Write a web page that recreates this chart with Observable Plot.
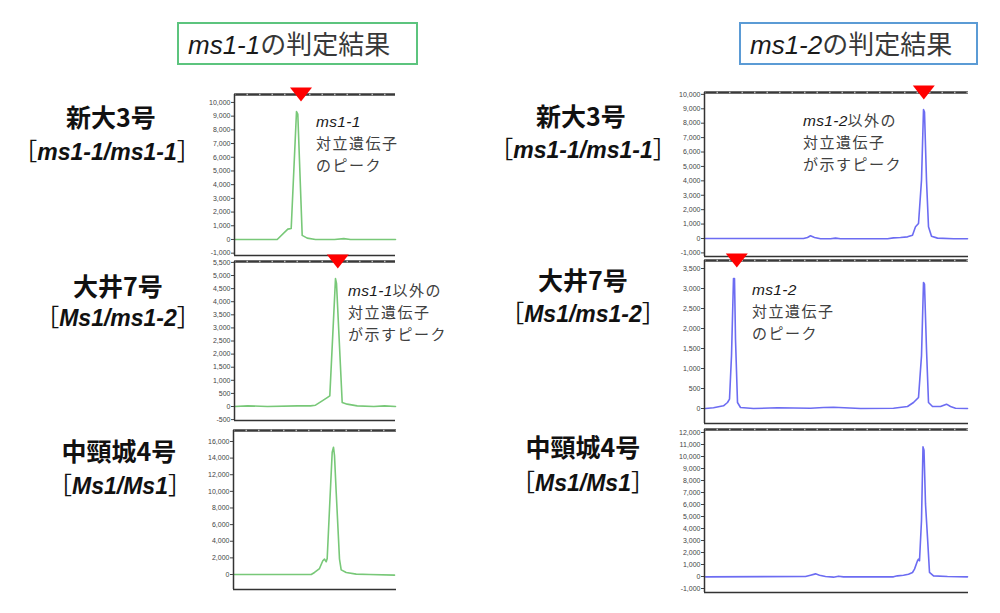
<!DOCTYPE html>
<html><head><meta charset="utf-8">
<script src="https://cdn.jsdelivr.net/npm/d3@7"></script>
<script src="https://cdn.jsdelivr.net/npm/@observablehq/plot@0.6"></script>
<style>
body{margin:0;background:#fff;}
#root{position:relative;width:1000px;height:613px;overflow:hidden;font-family:"Noto Sans CJK JP",sans-serif;color:#222;}
.abs{position:absolute;white-space:nowrap;}
.lat{font-family:"Liberation Sans",sans-serif;font-style:italic;}
.box{position:absolute;box-sizing:border-box;border:2px solid;white-space:nowrap;font-size:26px;line-height:38px;color:#383838;}
.row1{font-size:25px;font-weight:bold;line-height:32px;height:32px;text-align:center;width:220px;color:#111;}
.row2{font-size:24px;line-height:32px;height:32px;text-align:center;width:220px;color:#111;}
.row2 .lat{font-weight:bold;font-size:23px;}
.ann{font-size:15px;line-height:21px;height:21px;letter-spacing:1.5px;color:#404040;}
.ann .lat{color:#1a1a1a;font-size:15.5px;letter-spacing:0.3px;}
svg{overflow:visible;}
</style></head><body><div id="root"></div>
<script>
// ---------- data ----------
const titleLoci = ["ms1-1", "ms1-2"];
const titleSuffix = "の判定結果";
const varieties = ["新大3号", "大井7号", "中頸城4号"];
const genotypes = [["ms1-1", "ms1-1"], ["Ms1", "ms1-2"], ["Ms1", "Ms1"]];

// left column (ms1-1 assay), green traces: position (arbitrary units) and signal
const p1Pos = [0, 20, 42.7, 53.3, 56.7, 62, 63.3, 67.7, 72.7, 81, 100, 109.3, 116, 140, 161];
const p1Sig = [0, 0, 0, 755, 800, 9340, 9150, 300, 100, 0, 0, 60, 0, 0, 0];
const p2Pos = [0, 13, 33, 63, 76, 81, 87.7, 92.7, 95.3, 101, 102, 107.7, 112.7, 122.7, 139.3, 150, 161];
const p2Sig = [0, 25, 0, 25, 25, 50, 215, 340, 405, 4880, 4700, 150, 90, 25, 0, 25, 0];
const p3Pos = [0, 77.7, 81, 86, 89.3, 91, 92.7, 93.7, 96, 98.7, 100, 101, 102.7, 106, 107.7, 112.7, 122.7, 136, 161];
const p3Sig = [0, 0, 240, 720, 1650, 1850, 1530, 1930, 7880, 14700, 15300, 14300, 9900, 1850, 560, 240, 40, 0, -80];
// right column (ms1-2 assay), blue traces
const p4Pos = [1, 99, 103, 106, 110, 116, 126, 131, 136, 156, 183, 189, 196, 203, 208, 211, 214, 217, 219, 220, 222, 224, 227, 233, 249, 263];
const p4Sig = [0, 0, 70, 185, 70, -20, -20, 25, -20, -20, -20, 45, 70, 115, 230, 810, 1040, 4040, 8940, 8780, 4040, 810, 160, 25, -20, -20];
const p5Pos = [1, 9, 14, 19, 23, 25, 27, 29, 30, 31, 33, 36, 49, 73, 106, 119, 129, 156, 189, 203, 209, 214, 217, 219, 220, 222, 224, 228, 236, 242, 246, 251, 263];
const p5Sig = [0, 17, 42, 67, 150, 233, 1317, 3250, 3250, 1733, 150, 25, 0, 17, 8, 25, 33, 0, 8, 50, 150, 275, 1317, 3150, 3108, 1483, 150, 50, 50, 108, 50, 8, 0];
const p6Pos = [1, 101, 106, 111, 115, 121, 129, 134, 139, 189, 193, 199, 204, 208, 210, 213, 214, 215, 217, 218.5, 219.5, 221, 223, 225, 229, 243, 263];
const p6Sig = [-28, 0, 110, 220, 110, 0, -55, 28, -28, -28, 55, 110, 195, 335, 615, 1310, 1450, 1310, 4660, 10800, 10520, 6050, 3260, 335, 55, 0, -28];

// marker (red triangle) positions per panel
const p1Marks = [66.5];
const p2Marks = [103.3];
const p4Marks = [219.3];
const p5Marks = [32.3];

// y tick values
const t1 = [-1000, 0, 1000, 2000, 3000, 4000, 5000, 6000, 7000, 8000, 9000, 10000];
const t2 = [-500, 0, 500, 1000, 1500, 2000, 2500, 3000, 3500, 4000, 4500, 5000, 5500];
const t3 = [0, 2000, 4000, 6000, 8000, 10000, 12000, 14000, 16000];
const t4 = [-1000, 0, 1000, 2000, 3000, 4000, 5000, 6000, 7000, 8000, 9000, 10000];
const t5 = [0, 500, 1000, 1500, 2000, 2500, 3000, 3500];
const t6 = [-1000, 0, 1000, 2000, 3000, 4000, 5000, 6000, 7000, 8000, 9000, 10000, 11000, 12000];

// annotations
const ann1 = ["ms1-1", "", "対立遺伝子", "のピーク"];
const ann2 = ["ms1-1", "以外の", "対立遺伝子", "が示すピーク"];
const ann4 = ["ms1-2", "以外の", "対立遺伝子", "が示すピーク"];
const ann5 = ["ms1-2", "", "対立遺伝子", "のピーク"];

// ---------- layout ----------
const green = "#78c878", blue = "#6c6cf2";
const panels = [
  {pos: p1Pos, sig: p1Sig, marks: p1Marks, ticks: t1, yd: [-1170, 10580], x: 234, top: 94, bot: 255, w: 161, color: green},
  {pos: p2Pos, sig: p2Sig, marks: p2Marks, ticks: t2, yd: [-534, 5535], x: 234, top: 261, bot: 420, w: 161, color: green},
  {pos: p3Pos, sig: p3Sig, marks: [], ticks: t3, yd: [-1805, 17320], x: 233, top: 430, bot: 589, w: 163, color: green},
  {pos: p4Pos, sig: p4Sig, marks: p4Marks, ticks: t4, yd: [-1250, 10130], x: 704, top: 92, bot: 256, w: 264, color: blue},
  {pos: p5Pos, sig: p5Sig, marks: p5Marks, ticks: t5, yd: [-375, 3700], x: 704, top: 260, bot: 423, w: 264, color: blue},
  {pos: p6Pos, sig: p6Sig, marks: [], ticks: t6, yd: [-1333, 12250], x: 704, top: 429, bot: 592, w: 264, color: blue}
];

const root = document.getElementById("root");
const fmt = d => d3.format(",")(d).replace("\u2212", "-");
const downTri = {draw(ctx) { ctx.moveTo(-11, -7); ctx.lineTo(11, -7); ctx.lineTo(0, 7); ctx.closePath(); }};

const ml = 40, mr = 4, mt = 10, mb = 4;
for (const p of panels) {
  const h = p.bot - p.top;
  const data = p.pos.map((x, i) => ({x, y: p.sig[i]}));
  const chart = Plot.plot({
    width: ml + p.w + mr, height: mt + h + mb,
    marginLeft: ml, marginRight: mr, marginTop: mt, marginBottom: mb,
    x: {domain: [0, p.w], axis: null},
    y: {domain: p.yd, axis: null},
    style: {fontFamily: "Liberation Sans, sans-serif", fontSize: "7px", color: "#444", background: "transparent"},
    marks: [
      Plot.axisY({ticks: p.ticks, tickFormat: fmt, tickSize: 3, tickPadding: 1, label: null, fontSize: 7}),
      Plot.line(data, {x: "x", y: "y", stroke: p.color, strokeWidth: 1.6}),
      Plot.ruleY([p.yd[0]], {stroke: "#333", strokeWidth: 1.5}),
      Plot.ruleY([p.yd[1]], {stroke: "#3a3a3a", strokeWidth: 2.5}),
      Plot.ruleY([p.yd[1]], {stroke: "#bbb", strokeWidth: 1.5, strokeDasharray: "1.5,11"}),
      Plot.ruleX([0], {stroke: "#333", strokeWidth: 1.5}),
      Plot.dot(p.marks, {x: d => d, frameAnchor: "top", symbol: downTri, fill: "#ff0000", stroke: null})
    ]
  });
  chart.style.position = "absolute";
  chart.style.left = (p.x - ml) + "px";
  chart.style.top = (p.top - mt) + "px";
  root.appendChild(chart);
}

function add(html, cls, left, top, extra) {
  const d = document.createElement("div");
  d.className = "abs " + cls;
  d.innerHTML = html;
  d.style.left = left + "px";
  d.style.top = top + "px";
  if (extra) Object.assign(d.style, extra);
  root.appendChild(d);
  return d;
}

// title boxes
const tb = [{left: 177, width: 241, col: "#5cc47e"}, {left: 739, width: 239, col: "#5b9bd5"}];
titleLoci.forEach((t, i) => {
  const d = add(`<span class="lat" style="color:#1a1a1a">${t}</span>${titleSuffix}`, "", tb[i].left, 22,
    {width: tb[i].width + "px", height: "43px", borderColor: tb[i].col, paddingLeft: "9px"});
  d.className = "box";
});

// row labels
const rowPos = [
  [[111, 116, 107, 150], [118, 285, 118, 316], [119, 450, 120, 484]],
  [[581, 115, 583, 148], [583, 279, 583, 312], [583, 446, 583, 481]]
];
rowPos.forEach(col => col.forEach((r, i) => {
  add(varieties[i], "row1", r[0] - 110, r[1] - 16);
  add(`［<span class="lat">${genotypes[i][0]}/${genotypes[i][1]}</span>］`, "row2", r[2] - 110, r[3] - 16);
}));

// annotations: one element per line
function ann(a, left, c1) {
  const lines = [`<span class="lat">${a[0]}</span>${a[1]}`, a[2], a[3]];
  lines.forEach((l, k) => add(l, "ann", left, c1 - 11 + k * 21.9));
}
ann(ann1, 316, 121);
ann(ann2, 348, 290);
ann(ann4, 803, 120);
ann(ann5, 752, 289);
</script></body></html>
